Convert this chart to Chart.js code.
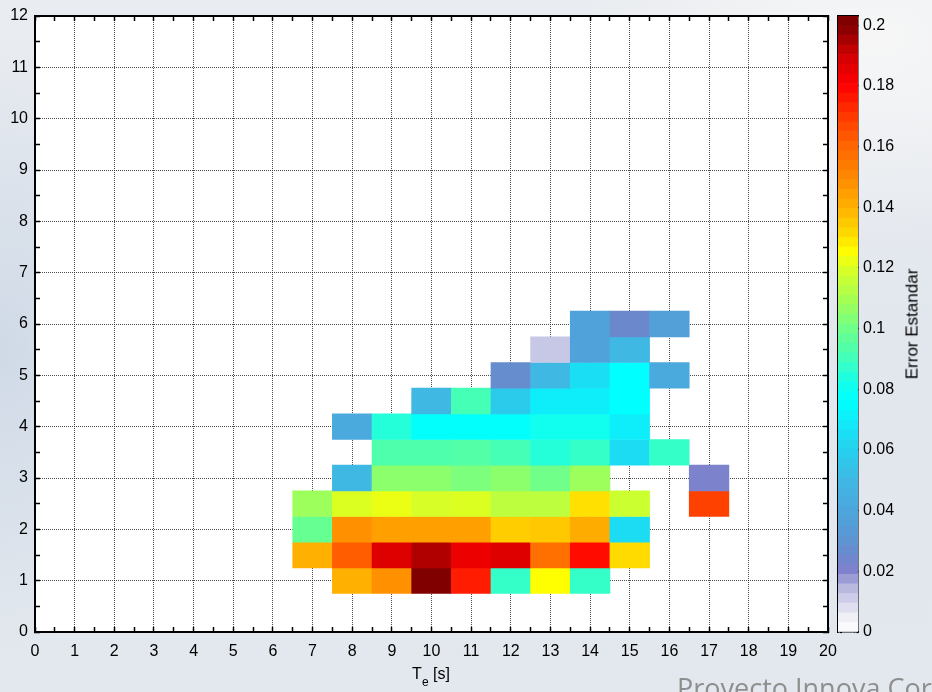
<!DOCTYPE html>
<html><head><meta charset="utf-8">
<script src="https://cdn.jsdelivr.net/npm/chart.js@4.4.1/dist/chart.umd.min.js"></script>
<style>
html,body{margin:0;padding:0;width:932px;height:692px;overflow:hidden;}
body{position:relative;font-family:'Liberation Sans',Arial,sans-serif;
  background:
    radial-gradient(ellipse 300px 200px at 880px 40px, rgba(248,248,248,0.9), rgba(248,248,248,0) 100%),
    radial-gradient(ellipse 200px 300px at 0px 350px, rgba(200,212,228,0.7), rgba(200,212,228,0) 100%),
    linear-gradient(180deg,#e9ecf0 0%,#e2e7ee 50%,#e3e8ee 100%);}
canvas{position:absolute;top:0;}
#main{left:0;}
#cbar{left:830px;}
#xtitle{position:absolute;left:381px;top:666px;width:100px;text-align:center;font-size:16px;line-height:16px;color:#000;white-space:nowrap;}
#xtitle sub{font-size:12px;vertical-align:-7px;line-height:0;}
#ctitle{position:absolute;left:912px;top:324px;transform:translate(-50%,-50%) rotate(-90deg);font-size:17px;line-height:17px;color:#000;white-space:nowrap;}
#logo{position:absolute;left:677px;top:674px;font-family:'Open Sans',sans-serif;font-size:27px;line-height:27px;color:#8e8e8e;white-space:nowrap;}
</style></head>
<body>
<canvas id="main" width="932" height="692"></canvas>
<canvas id="cbar" width="102" height="692"></canvas>
<div id="xtitle">T<sub>e</sub> [s]</div>
<div id="ctitle">Error Estandar</div>
<div id="logo">Proyecto Innova Corfo</div>
<script>
// ---- data: one entry per cell (period Te [s], height H [m], standard error)
const cellPeriod = [
  8,9,10,11,12,13,14,
  7,8,9,10,11,12,13,14,15,
  7,8,9,10,11,12,13,14,15,
  7,8,9,10,11,12,13,14,15,17,
  8,9,10,11,12,13,14,17,
  9,10,11,12,13,14,15,16,
  8,9,10,11,12,13,14,15,
  10,11,12,13,14,15,
  12,13,14,15,16,
  13,14,15,
  14,15,16
];
const cellHeight = [
  1,1,1,1,1,1,1,
  1.5,1.5,1.5,1.5,1.5,1.5,1.5,1.5,1.5,
  2,2,2,2,2,2,2,2,2,
  2.5,2.5,2.5,2.5,2.5,2.5,2.5,2.5,2.5,2.5,
  3,3,3,3,3,3,3,3,
  3.5,3.5,3.5,3.5,3.5,3.5,3.5,3.5,
  4,4,4,4,4,4,4,4,
  4.5,4.5,4.5,4.5,4.5,4.5,
  5,5,5,5,5,
  5.5,5.5,5.5,
  6,6,6
];
const cellError = [
  0.140,0.148,0.200,0.175,0.088,0.125,0.088,
  0.140,0.162,0.187,0.194,0.184,0.187,0.157,0.178,0.131,
  0.098,0.148,0.144,0.144,0.144,0.134,0.135,0.141,0.064,
  0.108,0.120,0.122,0.119,0.120,0.114,0.114,0.130,0.117,0.168,
  0.050,0.105,0.105,0.102,0.105,0.100,0.108,0.021,
  0.093,0.093,0.094,0.091,0.085,0.088,0.064,0.088,
  0.042,0.085,0.077,0.077,0.077,0.081,0.081,0.070,
  0.050,0.091,0.058,0.070,0.070,0.076,
  0.027,0.050,0.065,0.076,0.042,
  0.012,0.038,0.050,
  0.038,0.025,0.036
];
const cellHalfHeight = 0.25;   // bin half-size in H
const errMin = 0, errMax = 0.203, errStep = 0.02;
const xMin = 0, xMax = 20, yMin = 0, yMax = 12;

// colormap stops (value, colour)
const cmapValues = [0,0.005,0.01,0.015,0.02,0.025,0.03,0.04,0.05,0.06,0.07,0.076,0.082,0.09,0.1,0.11,0.12,0.125,0.13,0.14,0.15,0.16,0.17,0.18,0.19,0.2];
const cmapColors = ['#ffffff','#eeeef6','#d4d4ec','#b4b4de','#8080cc','#6c88cc','#5e94d2','#4ca6dc','#40b8e4','#26d0ee','#0eeefa','#00ffff','#14ffea','#40ffbc','#70ff88','#a8ff50','#dcff22','#ffff00','#ffe000','#ffb000','#ff8800','#ff6600','#ff3800','#ff0000','#d00000','#800000'];
function hex(c){return [parseInt(c.substr(1,2),16),parseInt(c.substr(3,2),16),parseInt(c.substr(5,2),16)];}
function errColor(v){
  if (v <= cmapValues[0]) return cmapColors[0];
  for (let i=1;i<cmapValues.length;i++){
    if (v <= cmapValues[i]){
      const t=(v-cmapValues[i-1])/(cmapValues[i]-cmapValues[i-1]);
      const a=hex(cmapColors[i-1]), b=hex(cmapColors[i]);
      return 'rgb('+a.map((x,k)=>Math.round(x+(b[k]-x)*t)).join(',')+')';
    }
  }
  return cmapColors[cmapColors.length-1];
}

const FONT = {family:"'Liberation Sans', Arial, sans-serif", size:16};
const whiteArea = {id:'whiteArea', beforeDraw(c){const a=c.chartArea;c.ctx.save();c.ctx.fillStyle='#fff';c.ctx.fillRect(a.left,a.top,a.right-a.left,a.bottom-a.top);c.ctx.restore();}};
const isMajor = v => Math.abs(v - Math.round(v)) < 1e-6;
const majorLabel = v => isMajor(v) ? String(Math.round(v)) : '';
const gridColor = ctx => (ctx.tick && isMajor(ctx.tick.value)) ? 'rgba(30,30,30,0.8)' : 'rgba(0,0,0,0)';
const noPad = s => { s.paddingTop = 0; s.paddingBottom = 0; s.paddingLeft = 0; s.paddingRight = 0; };

const gridStyle = {color:gridColor, lineWidth:1, drawTicks:true, tickLength:-5, tickColor:'#000', tickWidth:1.5, offset:false};
const edgeGrid = {display:true, drawOnChartArea:false, drawTicks:true, tickLength:-5, tickColor:'#000', tickWidth:1.5, offset:false};

new Chart(document.getElementById('main'), {
  type:'bar',
  data:{datasets:[{
    data: cellPeriod.map((t,i)=>({x:t, y:[cellHeight[i]-cellHalfHeight, cellHeight[i]+cellHalfHeight]})),
    backgroundColor: cellError.map(errColor),
    borderWidth:0, barPercentage:1, categoryPercentage:1, grouped:false,
    xAxisID:'xb', yAxisID:'y'
  }]},
  options:{
    responsive:false, animation:false,
    layout:{padding:0},
    plugins:{legend:{display:false}, tooltip:{enabled:false}},
    scales:{
      xb:{type:'linear', display:false, position:'bottom', min:xMin, max:xMax, offset:false, ticks:{stepSize:1}},
      x:{type:'linear', position:'bottom', min:xMin, max:xMax, offset:false, z:1,
        ticks:{stepSize:0.5, autoSkip:false, maxRotation:0, padding:15, color:'#000', font:FONT, callback:majorLabel},
        grid:gridStyle,
        border:{display:true, color:'#000', width:2, dash:[1,1]},
        afterFit(s){s.height=60; noPad(s);}},
      x2:{type:'linear', position:'top', min:xMin, max:xMax, offset:false, z:1,
        ticks:{display:false, stepSize:0.5},
        grid:edgeGrid,
        border:{display:true, color:'#000', width:2},
        afterFit(s){s.height=16; noPad(s);}},
      y:{type:'linear', position:'left', min:yMin, max:yMax, z:1,
        ticks:{stepSize:0.5, autoSkip:false, padding:12, color:'#000', font:FONT, callback:majorLabel},
        grid:gridStyle,
        border:{display:true, color:'#000', width:2, dash:[1,1]},
        afterFit(s){s.width=35; noPad(s);}},
      y2:{type:'linear', position:'right', min:yMin, max:yMax, z:1,
        ticks:{display:false, stepSize:0.5},
        grid:edgeGrid,
        border:{display:true, color:'#000', width:2},
        afterFit(s){s.width=104; noPad(s);}}
    }
  },
  plugins:[whiteArea]
});

// ---- colour bar
const nLevels = 64;
const levelEdges = Array.from({length:nLevels+1},(_,i)=>errMin+(errMax-errMin)*i/nLevels);
const cbTicks = {display:true, drawOnChartArea:false, drawTicks:true, tickLength:-4, tickColor:'#000', tickWidth:1.2, tickBorderDash:[2,2]};
new Chart(document.getElementById('cbar'), {
  type:'bar',
  data:{labels:[''], datasets: levelEdges.slice(0,-1).map((lo,i)=>({
    data:[[lo, levelEdges[i+1]]],
    backgroundColor: errColor((lo+levelEdges[i+1])/2),
    borderWidth:0, barPercentage:1, categoryPercentage:1, grouped:false,
    xAxisID:'x', yAxisID:'y'
  }))},
  options:{
    responsive:false, animation:false,
    layout:{padding:{left:8, top:16, bottom:60, right:0}},
    plugins:{legend:{display:false}, tooltip:{enabled:false}},
    scales:{
      x:{type:'category', position:'bottom', z:1, ticks:{display:false}, grid:{display:false},
        border:{display:true, color:'#000', width:1.5}, afterFit(s){s.height=0; noPad(s);}},
      xt:{type:'linear', position:'top', min:0, max:1, z:1, ticks:{display:false}, grid:{display:false},
        border:{display:true, color:'#000', width:1.5}, afterFit(s){s.height=0; noPad(s);}},
      yl:{type:'linear', position:'left', min:errMin, max:errMax, z:1, ticks:{display:false, stepSize:errStep, includeBounds:false},
        grid:cbTicks, border:{display:true, color:'#000', width:1.5}, afterFit(s){s.width=0; noPad(s);}},
      y:{type:'linear', position:'right', min:errMin, max:errMax, z:1,
        ticks:{stepSize:errStep, includeBounds:false, padding:9, color:'#000', font:FONT, callback:v=>String(+v.toFixed(2))},
        grid:cbTicks, border:{display:true, color:'#000', width:1.5}, afterFit(s){s.width=74; noPad(s);}}
    }
  }
});
</script>
</body></html>
